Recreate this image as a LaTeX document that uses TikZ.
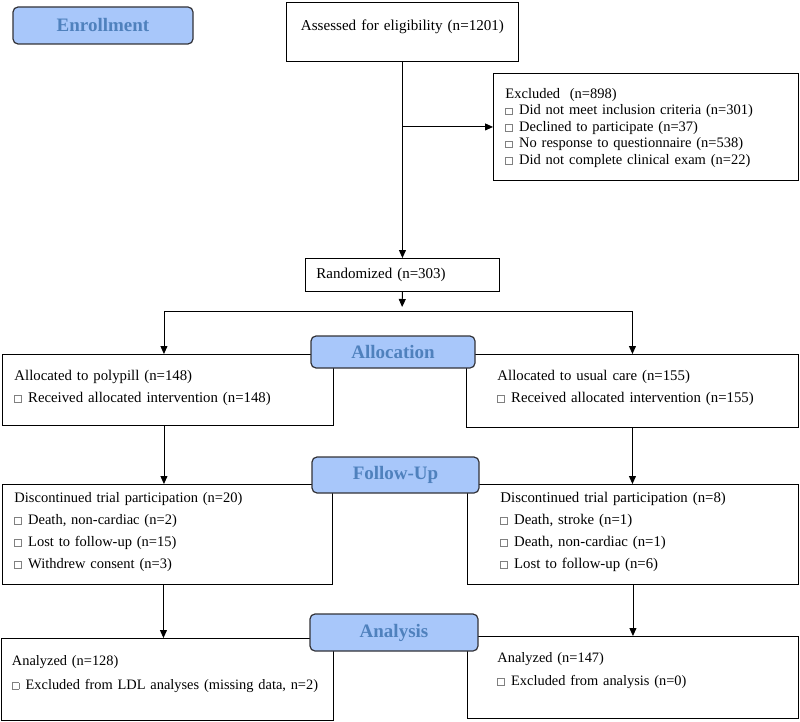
\documentclass[tikz,border=0pt]{standalone}
\usepackage{fontspec}
\setmainfont{Liberation Serif}
\usepackage{xcolor}
\usepackage{tikz}
\usetikzlibrary{arrows.meta, positioning}
\definecolor{stagefill}{RGB}{168, 199, 250}
\definecolor{stagetext}{RGB}{79, 129, 189}
\definecolor{stageline}{RGB}{50, 50, 55}
\newcommand{\sqbul}{\raisebox{0.5pt}{\textcolor{gray}{\fboxsep=0pt\fboxrule=0.6pt\fbox{\rule{0pt}{6pt}\rule{6pt}{0pt}}}}\hspace{6.5pt}}
\tikzstyle{stage} = [rectangle, rounded corners=5pt, draw=stageline, line width=1.2pt, fill=stagefill, text=stagetext, font=\fontsize{19}{22}\selectfont\bfseries]
\tikzstyle{box} = [rectangle, draw=black, line width=0.9pt, fill=white, anchor=north west, inner ysep=0pt, align=left, font=\fontsize{14.8}{22}\selectfont]
\tikzstyle{arrow} = [line width=0.9pt, -{Triangle[length=8pt, width=7pt]}]

\begin{document}
\begin{tikzpicture}[x=1pt, y=-1pt]
    \useasboundingbox (0,0) rectangle (800,722);

    % Enrollment
    \node[box, minimum width=232pt, text width=222pt, inner xsep=5pt, align=center, text height=28pt, text depth=31pt, font=\fontsize{15.1}{22}\selectfont] (assess) at (286,2) {Assessed for eligibility (n=1201)};
    \node[box, minimum width=305pt, text width=281pt, inner xsep=12pt, text height=25pt, text depth=82pt, font=\fontsize{14.5}{16.5}\selectfont] (excl) at (493,73) {Excluded\ \ (n=898)\\
        \sqbul Did not meet inclusion criteria (n=301)\\
        \sqbul Declined to participate (n=37)\\
        \sqbul No response to questionnaire (n=538)\\
        \sqbul Did not complete clinical exam (n=22)};
    \node[box, minimum width=194pt, text width=172pt, inner xsep=11pt, text height=20pt, text depth=13pt, font=\fontsize{15}{22}\selectfont] (rand) at (305,258) {Randomized (n=303)};
    \coordinate (split) at (402,311);

    % Allocation
    \node[box, minimum width=331pt, text width=307pt, inner xsep=12pt, text height=26pt, text depth=45pt] (allocL) at (2,354) {Allocated to polypill (n=148)\\
        \sqbul Received allocated intervention (n=148)};
    \node[box, minimum width=332pt, text width=270pt, inner xsep=31pt, text height=26pt, text depth=47pt] (allocR) at (466,354) {Allocated to usual care (n=155)\\
        \sqbul Received allocated intervention (n=155)};

    % Follow-Up
    \node[box, minimum width=330pt, text width=306pt, inner xsep=12pt, text height=18pt, text depth=82pt, font=\fontsize{14.5}{22}\selectfont] (discL) at (2,484) {Discontinued trial participation (n=20)\\
        \sqbul Death, non-cardiac (n=2)\\
        \sqbul Lost to follow-up (n=15)\\
        \sqbul Withdrew consent (n=3)};
    \node[box, minimum width=331pt, text width=265pt, inner xsep=33pt, text height=18pt, text depth=82pt] (discR) at (467,484) {Discontinued trial participation (n=8)\\
        \sqbul Death, stroke (n=1)\\
        \sqbul Death, non-cardiac (n=1)\\
        \sqbul Lost to follow-up (n=6)};

    % Analysis
    \node[box, minimum width=332pt, text width=311pt, inner xsep=10.5pt, text height=27pt, text depth=55pt, font=\fontsize{14.4}{24}\selectfont] (anaL) at (1,638) {Analyzed (n=128)\\
        \mbox{\sqbul Excluded from LDL analyses (missing data, n=2)}};
    \node[box, minimum width=331pt, text width=271pt, inner xsep=30pt, text height=26pt, text depth=56pt, font=\fontsize{14.4}{23}\selectfont] (anaR) at (467,636) {Analyzed (n=147)\\
        \sqbul Excluded from analysis (n=0)};

    % Connections
    \draw[arrow] (assess.south) -- (rand.north);
    \draw[arrow] (excl.west -| assess.south) -- (excl.west);
    \draw[arrow, shorten >=4pt] (rand.south) -- (split);
    \draw[arrow] (split) -| ([xshift=-4pt]allocL.north);
    \draw[arrow] (split) -| (allocR.north);
    \draw[arrow] ([xshift=-4pt]allocL.south) -- ([xshift=-4pt]allocL.south |- discL.north);
    \draw[arrow] (allocR.south) -- (allocR.south |- discR.north);
    \draw[arrow] ([xshift=-4pt]discL.south) -- ([xshift=-4pt]discL.south |- anaL.north);
    \draw[arrow] (discR.south) -- (discR.south |- anaR.north);

    % Stage labels
    \node[stage, minimum width=180pt, minimum height=37pt] (enroll) at (103,25.5) {Enrollment};
    \node[stage, minimum width=164pt, minimum height=32pt] (alloc) at (393,352) {Allocation};
    \node[stage, minimum width=167pt, minimum height=36pt] (follow) at (395.5,475) {Follow-Up};
    \node[stage, minimum width=168pt, minimum height=37pt] (analysis) at (394,632.5) {Analysis};
\end{tikzpicture}
\end{document}
